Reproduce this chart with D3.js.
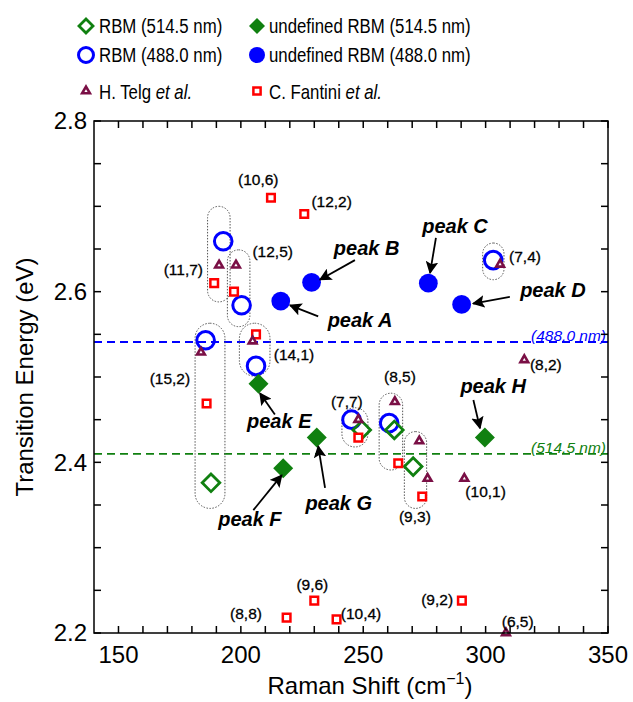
<!DOCTYPE html>
<html>
<head>
<meta charset="utf-8">
<script src="https://cdn.jsdelivr.net/npm/d3@7"></script>
<style>
  body { margin: 0; background: #fff; }
  text { font-family: "Liberation Sans", Arial, sans-serif; }
</style>
</head>
<body>
<svg id="chart" width="633" height="702"></svg>
<script>
// Data (Raman shift in cm-1, transition energy in eV)
const rbm514 = [[187.8, 2.376], [249.4, 2.438], [262.7, 2.438], [270.4, 2.395]]
const rbm488 = [[192.8, 2.659], [200.3, 2.584], [185.6, 2.543], [206.2, 2.513], [245.2, 2.450], [260.6, 2.446], [303.1, 2.637]]
const undef514 = [[207.2, 2.492], [217.3, 2.393], [231.0, 2.429], [299.7, 2.429]]
const undef488 = [[216.3, 2.589], [228.9, 2.611], [276.6, 2.610], [290.2, 2.585]]
const telg = [[191.1, 2.631], [198.0, 2.631], [183.7, 2.529], [204.8, 2.542], [248.0, 2.450], [262.9, 2.471],
    [272.9, 2.425], [276.3, 2.381], [305.9, 2.632], [315.8, 2.520], [291.3, 2.381], [308.3, 2.200]]
const fantini = [[212.3, 2.710], [225.9, 2.691], [189.1, 2.610], [197.2, 2.600], [206.2, 2.550], [186.0, 2.469],
    [248.0, 2.429], [264.3, 2.399], [274.1, 2.360], [218.7, 2.218], [230.0, 2.238], [239.1, 2.216], [290.3, 2.238]]

// Laser lines
const laserLines = [
    { energy: 2.541, label: "(488.0 nm)", color: "#0000ff" },
    { energy: 2.410, label: "(514.5 nm)", color: "#108010" },
]

// Dotted groups: [xMin, xMax, yMin, yMax]
const groups = [
    [186.4, 195.6, 2.588, 2.700], [194.5, 203.7, 2.559, 2.649], [181.3, 193.5, 2.346, 2.563],
    [199.4, 211.9, 2.501, 2.563], [241.3, 251.9, 2.418, 2.464], [256.5, 266.1, 2.391, 2.481],
    [266.8, 275.9, 2.346, 2.436], [298.8, 307.5, 2.614, 2.657],
]

// Chirality labels [text, x, y]
const chirality = [
    ["(10,6)", 207.1, 2.731], ["(12,2)", 237.1, 2.705], ["(12,5)", 213.0, 2.647], ["(11,7)", 176.5, 2.626],
    ["(14,1)", 221.7, 2.526], ["(15,2)", 171.0, 2.498], ["(7,7)", 243.3, 2.471], ["(8,5)", 265.0, 2.500],
    ["(7,4)", 316.1, 2.641], ["(8,2)", 324.6, 2.514], ["(10,1)", 300.0, 2.366], ["(9,3)", 271.1, 2.336],
    ["(8,8)", 202.1, 2.223], ["(9,6)", 229.2, 2.257], ["(10,4)", 249.1, 2.223], ["(9,2)", 280.2, 2.239],
    ["(6,5)", 313.1, 2.213],
]

// Peak labels: text position, arrow tail and arrow head
const peaks = [
    { name: "peak A", text: [248.7, 2.567], from: [231.6, 2.571], to: [220.1, 2.584] },
    { name: "peak B", text: [251.4, 2.651], from: [246.6, 2.637], to: [232.3, 2.614] },
    { name: "peak C", text: [287.5, 2.677], from: [279.7, 2.663], to: [277.3, 2.622] },
    { name: "peak D", text: [327.5, 2.602], from: [309.9, 2.594], to: [294.9, 2.586] },
    { name: "peak E", text: [215.7, 2.448], from: [213.9, 2.456], to: [207.8, 2.481] },
    { name: "peak F", text: [203.7, 2.334], from: [205.1, 2.344], to: [216.7, 2.385] },
    { name: "peak G", text: [240.0, 2.352], from: [234.4, 2.370], to: [231.6, 2.419] },
    { name: "peak H", text: [303.1, 2.489], from: [295.0, 2.473], to: [297.7, 2.440] },
]

const xTicks = d3.range(150, 351, 10)
const xLabels = [150, 200, 250, 300, 350]
const yTicks = d3.range(2.2, 2.801, 0.05)
const yLabels = [2.2, 2.4, 2.6, 2.8]

const green = "#108010", blue = "#0000ff", maroon = "#7a0f45", red = "#ff0000"

const svg = d3.select("#chart")
const x = d3.scaleLinear().domain([140, 350]).range([94, 608])
const y = d3.scaleLinear().domain([2.2, 2.8]).range([633, 121])

// Arrow head
svg.append("defs").append("marker")
    .attr("id", "head")
    .attr("viewBox", "0 0 10 10")
    .attr("refX", 9).attr("refY", 5)
    .attr("markerWidth", 7).attr("markerHeight", 7)
    .attr("markerUnits", "strokeWidth")
    .attr("orient", "auto")
    .append("path").attr("d", "M0,0L10,5L0,10L2,5Z").attr("fill", "#000")

// Laser dashed lines
svg.append("g").selectAll("line")
    .data(laserLines).enter().append("line")
    .attr("x1", x(140)).attr("x2", x(350))
    .attr("y1", d => y(d.energy)).attr("y2", d => y(d.energy))
    .attr("stroke", d => d.color).attr("stroke-width", 1.8)
    .attr("stroke-dasharray", "8,5")
svg.append("g").selectAll("text")
    .data(laserLines).enter().append("text")
    .attr("x", x(350) - 2).attr("y", d => y(d.energy) - 1)
    .attr("text-anchor", "end").attr("font-size", 15.5).attr("font-style", "italic")
    .attr("fill", d => d.color).text(d => d.label)

// Dotted grouping ovals
svg.append("g").selectAll("rect")
    .data(groups).enter().append("rect")
    .attr("x", d => x(d[0])).attr("y", d => y(d[3]))
    .attr("width", d => x(d[1]) - x(d[0])).attr("height", d => y(d[2]) - y(d[3]))
    .attr("rx", d => (x(d[1]) - x(d[0])) / 2).attr("ry", d => (x(d[1]) - x(d[0])) / 2)
    .attr("fill", "none").attr("stroke", "#555").attr("stroke-width", 1)
    .attr("stroke-dasharray", "1.5,1.5")

// Marker helpers
const diamond = d3.symbol().type(d3.symbolSquare)
const addPoints = (data, draw) => {
    const g = svg.append("g")
    data.forEach(d => draw(g, x(d[0]), y(d[1])))
}
const drawSquare = (g, cx, cy, s = 58) => g.append("path")
    .attr("d", d3.symbol().type(d3.symbolSquare).size(s)())
    .attr("transform", `translate(${cx},${cy})`)
    .attr("fill", "#fff").attr("stroke", red).attr("stroke-width", 2.5)
const drawTriangle = (g, cx, cy) => g.append("path")
    .attr("d", d3.symbol().type(d3.symbolTriangle).size(26)())
    .attr("transform", `translate(${cx},${cy})`)
    .attr("fill", "#fff").attr("stroke", maroon).attr("stroke-width", 2.6)
const drawOpenDiamond = (g, cx, cy, h = 8.8) => g.append("path")
    .attr("d", diamond.size(2 * h * h)())
    .attr("transform", `translate(${cx},${cy}) rotate(45)`)
    .attr("fill", "none").attr("stroke", green).attr("stroke-width", 2.8)
const drawFilledDiamond = (g, cx, cy, h = 10) => g.append("path")
    .attr("d", diamond.size(2 * h * h)())
    .attr("transform", `translate(${cx},${cy}) rotate(45)`)
    .attr("fill", green)
const drawOpenCircle = (g, cx, cy, r = 8.8) => g.append("circle")
    .attr("cx", cx).attr("cy", cy).attr("r", r)
    .attr("fill", "none").attr("stroke", blue).attr("stroke-width", 3)
const drawFilledCircle = (g, cx, cy, r = 9.4) => g.append("circle")
    .attr("cx", cx).attr("cy", cy).attr("r", r).attr("fill", blue)

addPoints(rbm488, drawOpenCircle)
addPoints(rbm514, drawOpenDiamond)
addPoints(fantini, drawSquare)
addPoints(telg, drawTriangle)
addPoints(undef488, drawFilledCircle)
addPoints(undef514, drawFilledDiamond)

// Chirality labels
svg.append("g").selectAll("text")
    .data(chirality).enter().append("text")
    .attr("x", d => x(d[1])).attr("y", d => y(d[2]))
    .attr("dy", "0.35em").attr("text-anchor", "middle")
    .attr("font-size", 15.5).attr("fill", "#000")
    .attr("stroke", "#000").attr("stroke-width", 0.3)
    .text(d => d[0])

// Peak labels with arrows
const peakG = svg.append("g")
peakG.selectAll("line")
    .data(peaks).enter().append("line")
    .attr("x1", d => x(d.from[0])).attr("y1", d => y(d.from[1]))
    .attr("x2", d => x(d.to[0])).attr("y2", d => y(d.to[1]))
    .attr("stroke", "#000").attr("stroke-width", 1.8)
    .attr("marker-end", "url(#head)")
peakG.selectAll("text")
    .data(peaks).enter().append("text")
    .attr("x", d => x(d.text[0])).attr("y", d => y(d.text[1]))
    .attr("dy", "0.35em").attr("text-anchor", "middle")
    .attr("font-size", 20).attr("font-weight", "bold").attr("font-style", "italic")
    .text(d => d.name)

// Axes frame and inward ticks
const axisG = svg.append("g").attr("stroke", "#000").attr("stroke-width", 1.5)
axisG.append("rect")
    .attr("x", x(140)).attr("y", y(2.8))
    .attr("width", x(350) - x(140)).attr("height", y(2.2) - y(2.8))
    .attr("fill", "none")
xTicks.forEach(t => {
    axisG.append("line").attr("x1", x(t)).attr("x2", x(t)).attr("y1", y(2.2)).attr("y2", y(2.2) - 7)
    axisG.append("line").attr("x1", x(t)).attr("x2", x(t)).attr("y1", y(2.8)).attr("y2", y(2.8) + 7)
})
yTicks.forEach(t => {
    axisG.append("line").attr("x1", x(140)).attr("x2", x(140) + 7).attr("y1", y(t)).attr("y2", y(t))
    axisG.append("line").attr("x1", x(350)).attr("x2", x(350) - 7).attr("y1", y(t)).attr("y2", y(t))
})

// Tick labels
svg.append("g").selectAll("text")
    .data(xLabels).enter().append("text")
    .attr("x", d => x(d)).attr("y", y(2.2) + 30)
    .attr("text-anchor", "middle").attr("font-size", 24)
    .text(d => d)
svg.append("g").selectAll("text")
    .data(yLabels).enter().append("text")
    .attr("x", x(140) - 7).attr("y", d => y(d)).attr("dy", "0.35em")
    .attr("text-anchor", "end").attr("font-size", 24)
    .text(d => d3.format(".1f")(d))

// Axis titles
const xTitle = svg.append("text")
    .attr("x", 370).attr("y", 694)
    .attr("text-anchor", "middle").attr("font-size", 24)
xTitle.append("tspan").text("Raman Shift (cm")
xTitle.append("tspan").attr("dy", -10).attr("font-size", 16).text("\u22121")
xTitle.append("tspan").attr("dy", 10).text(")")

svg.append("text")
    .attr("transform", `translate(33,${(y(2.2) + y(2.8)) / 2}) rotate(-90)`)
    .attr("text-anchor", "middle").attr("font-size", 24)
    .text("Transition Energy (eV)")

// Legend
const legend = svg.append("g")
const legendText = (lx, ly, parts) => {
    const t = legend.append("text")
        .attr("transform", `translate(${lx},${ly}) scale(0.82,1)`)
        .attr("font-size", 20.5)
    parts.forEach(p => t.append("tspan").attr("font-style", p[1] ? "italic" : "normal").text(p[0]))
}
drawOpenDiamond(legend, 86, 26, 7)
legendText(99, 33, [["RBM (514.5 nm)"]])
drawFilledDiamond(legend, 257, 26, 8)
legendText(269, 33, [["undefined RBM (514.5 nm)"]])
drawOpenCircle(legend, 86, 55, 7.5)
legendText(99, 62, [["RBM (488.0 nm)"]])
drawFilledCircle(legend, 257, 55, 8)
legendText(269, 62, [["undefined RBM (488.0 nm)"]])
drawTriangle(legend, 86, 91)
legendText(99, 99, [["H. Telg "], ["et al.", true]])
drawSquare(legend, 257, 91, 52)
legendText(269, 99, [["C. Fantini "], ["et al.", true]])
</script>
</body>
</html>
